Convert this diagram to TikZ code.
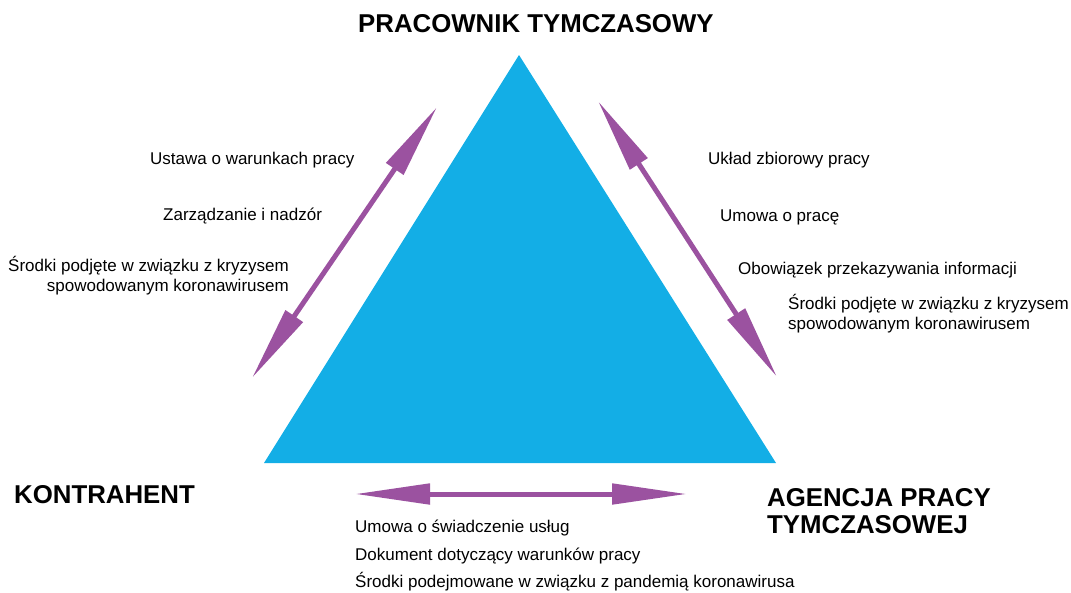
\documentclass[tikz,border=0pt]{standalone}
\usepackage{fontspec}
\setmainfont{Liberation Sans}
\usetikzlibrary{arrows.meta}
\definecolor{triblue}{HTML}{13AEE6}
\definecolor{linkpurple}{HTML}{9B52A0}

\begin{document}
\begin{tikzpicture}[x=1pt,y=-1pt,
    role/.style={font=\fontsize{25.8}{27}\selectfont\bfseries,inner sep=0pt,anchor=base west,align=left},
    item/.style={font=\fontsize{17}{19.5}\selectfont,inner sep=0pt,anchor=base west,align=left},
    link/.style={linkpurple,line width=5pt,{Triangle[length=75pt,width=20pt]}-{Triangle[length=75pt,width=20pt]}}]
    \useasboundingbox (0,0) rectangle (1071,592);
    \fill[triblue]
    (519,55) coordinate(T)
    -- (264,463) coordinate(L)
    -- (776,463) coordinate(R) -- cycle;
    \node[role] (worker) at (358,32) {PRACOWNIK TYMCZASOWY};
    \node[role] (client) at (14,503) {KONTRAHENT};
    \node[role] (agency) at (767,533) {AGENCJA PRACY\\TYMCZASOWEJ};
    \node[item] (lawA) at (150,164) {Ustawa o warunkach pracy};
    \node[item] (lawB) at (163,220) {Zarządzanie i nadzór};
    \node[item,anchor=base east,align=right] (lawC) at (289,291) {Środki podjęte w związku z kryzysem\\spowodowanym koronawirusem};
    \node[item] (empA) at (708,164) {Układ zbiorowy pracy};
    \node[item] (empB) at (720,221) {Umowa o pracę};
    \node[item] (empC) at (738,274) {Obowiązek przekazywania informacji};
    \node[item] (empD) at (788,329) {Środki podjęte w związku z kryzysem\\spowodowanym koronawirusem};
    \node[item] (svcA) at (355,532) {Umowa o świadczenie usług};
    \node[item] (svcB) at (355,560) {Dokument dotyczący warunków pracy};
    \node[item] (svcC) at (355,587) {Środki podejmowane w związku z pandemią koronawirusa};
    \coordinate (cw) at (252,378);
    \coordinate (wc) at (437,107);
    \coordinate (wa) at (598,101);
    \coordinate (aw) at (777,377);
    \coordinate (ca) at (355,494);
    \coordinate (ac) at (687,494);
    \draw[link] (cw) -- (wc);
    \draw[link] (wa) -- (aw);
    \draw[link] (ca) -- (ac);
  \end{tikzpicture}
\end{document}
